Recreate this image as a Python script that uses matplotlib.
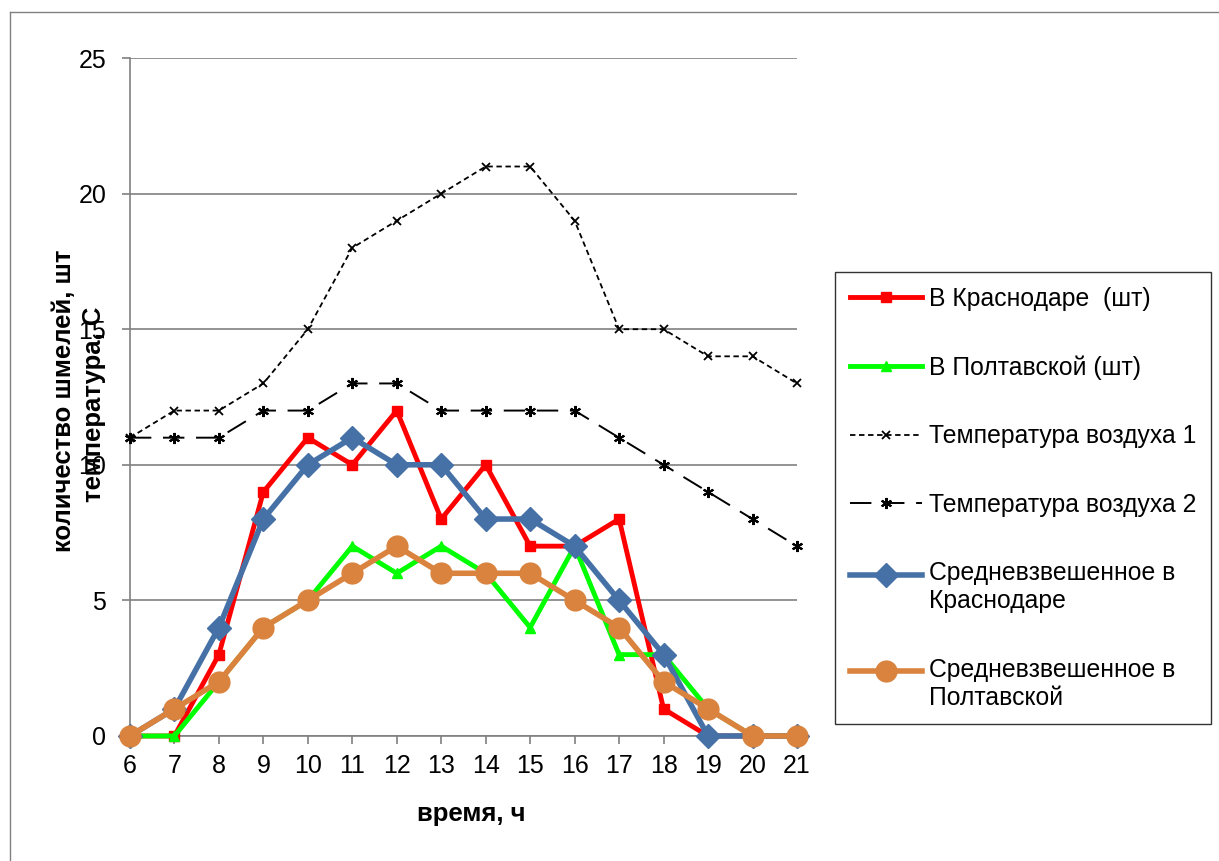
import matplotlib
matplotlib.use("Agg")
import matplotlib.pyplot as plt
from matplotlib.lines import Line2D
from matplotlib.legend_handler import HandlerLine2D

plt.rcParams['font.family'] = ['Liberation Sans', 'DejaVu Sans']

# hours of observation
hours = list(range(6, 22))

krasnodar = [0, 0, 3, 9, 11, 10, 12, 8, 10, 7, 7, 8, 1, 0, 0, 0]
poltava = [0, 0, 2, 4, 5, 7, 6, 7, 6, 4, 7, 3, 3, 1, 0, 0]
temp1 = [11, 12, 12, 13, 15, 18, 19, 20, 21, 21, 19, 15, 15, 14, 14, 13]
temp2 = [11, 11, 11, 12, 12, 13, 13, 12, 12, 12, 12, 11, 10, 9, 8, 7]
avg_krasnodar = [0, 1, 4, 8, 10, 11, 10, 10, 8, 8, 7, 5, 3, 0, 0, 0]
avg_poltava = [0, 1, 2, 4, 5, 6, 7, 6, 6, 6, 5, 4, 2, 1, 0, 0]

labels = ['В Краснодаре  (шт)', 'В Полтавской (шт)', 'Температура воздуха 1',
          'Температура воздуха 2', 'Средневзвешенное в\nКраснодаре',
          'Средневзвешенное в\nПолтавской']


class FirstLineHandler(HandlerLine2D):
    """Puts the legend line next to the first row of a two-row label."""
    def __init__(self, shift, **kw):
        super().__init__(**kw)
        self.shift = shift

    def create_artists(self, legend, orig_handle, xdescent, ydescent,
                       width, height, fontsize, trans):
        return super().create_artists(legend, orig_handle, xdescent,
                                      ydescent - 2 * self.shift * fontsize,
                                      width, height, fontsize, trans)


fig = plt.figure(figsize=(12.19, 8.61), dpi=100)
ax = fig.add_axes([0.1066, 0.1452, 0.5472, 0.7874])

ax.plot(hours, krasnodar, color='#FF0000', lw=3.5, marker='s', ms=7,
        clip_on=False, zorder=3, label=labels[0])
ax.plot(hours, poltava, color='#00FF00', lw=3.5, marker='^', ms=7,
        clip_on=False, zorder=3, label=labels[1])
ax.plot(hours, temp1, color='black', lw=1.3, ls=(0, (3, 2)), marker='x', ms=6,
        mew=1.3, clip_on=False, zorder=3, label=labels[2])
ax.plot(hours, temp2, color='black', lw=1.4, ls=(0, (11, 6)), marker=(6, 2, 0), ms=8,
        mew=1.5, clip_on=False, zorder=3, label=labels[3])
l_avg_k, = ax.plot(hours, avg_krasnodar, color='#4671A6', lw=4, marker='D', ms=12,
                   clip_on=False, zorder=4, label=labels[4])
l_avg_p, = ax.plot(hours, avg_poltava, color='#D9833E', lw=4, marker='o', ms=15,
                   clip_on=False, zorder=5, label=labels[5])

ax.set_xlim(6, 21)
ax.set_ylim(0, 25)
ax.set_xticks(hours)
ax.set_yticks([0, 5, 10, 15, 20, 25])
ax.yaxis.grid(True, color='#808080', lw=1.2)
ax.set_axisbelow(True)
for s in ['top', 'right']:
    ax.spines[s].set_visible(False)
for s in ['left', 'bottom']:
    ax.spines[s].set_color('#808080')
    ax.spines[s].set_linewidth(1.2)
ax.tick_params(axis='both', direction='out', length=6, color='#808080',
               labelsize=18, width=1.2)
ax.tick_params(axis='x', pad=7)
ax.tick_params(axis='y', pad=11)

ax.set_xlabel('время, ч', fontsize=18.5, fontweight='bold', labelpad=17)
ax.xaxis.label.set_x(0.511)
# two axis titles sit on top of each other on the left
fig.text(0.0525, 0.535, 'количество шмелей, шт', rotation=90, fontsize=18.5,
         fontweight='bold', ha='center', va='center')
fig.text(0.077, 0.53, 'температура, С', rotation=90, fontsize=18.5,
         fontweight='bold', ha='center', va='center')

hmap = {l_avg_k: FirstLineHandler(0.53), l_avg_p: FirstLineHandler(0.53)}
leg = fig.legend(loc='upper left', bbox_to_anchor=(0.685, 0.684), fontsize=17.8,
                 frameon=True, fancybox=False, edgecolor='black',
                 handlelength=2.9, labelspacing=1.8, borderpad=0.6,
                 handletextpad=0.3, borderaxespad=0, handler_map=hmap)
leg.get_frame().set_linewidth(1.0)

# outer chart border
fig.add_artist(Line2D([0.0082, 0.0082], [0.0, 0.986], color='#808080', lw=1))
fig.add_artist(Line2D([0.0082, 1.0], [0.986, 0.986], color='#808080', lw=1))

fig.savefig('out.png', dpi=100)
